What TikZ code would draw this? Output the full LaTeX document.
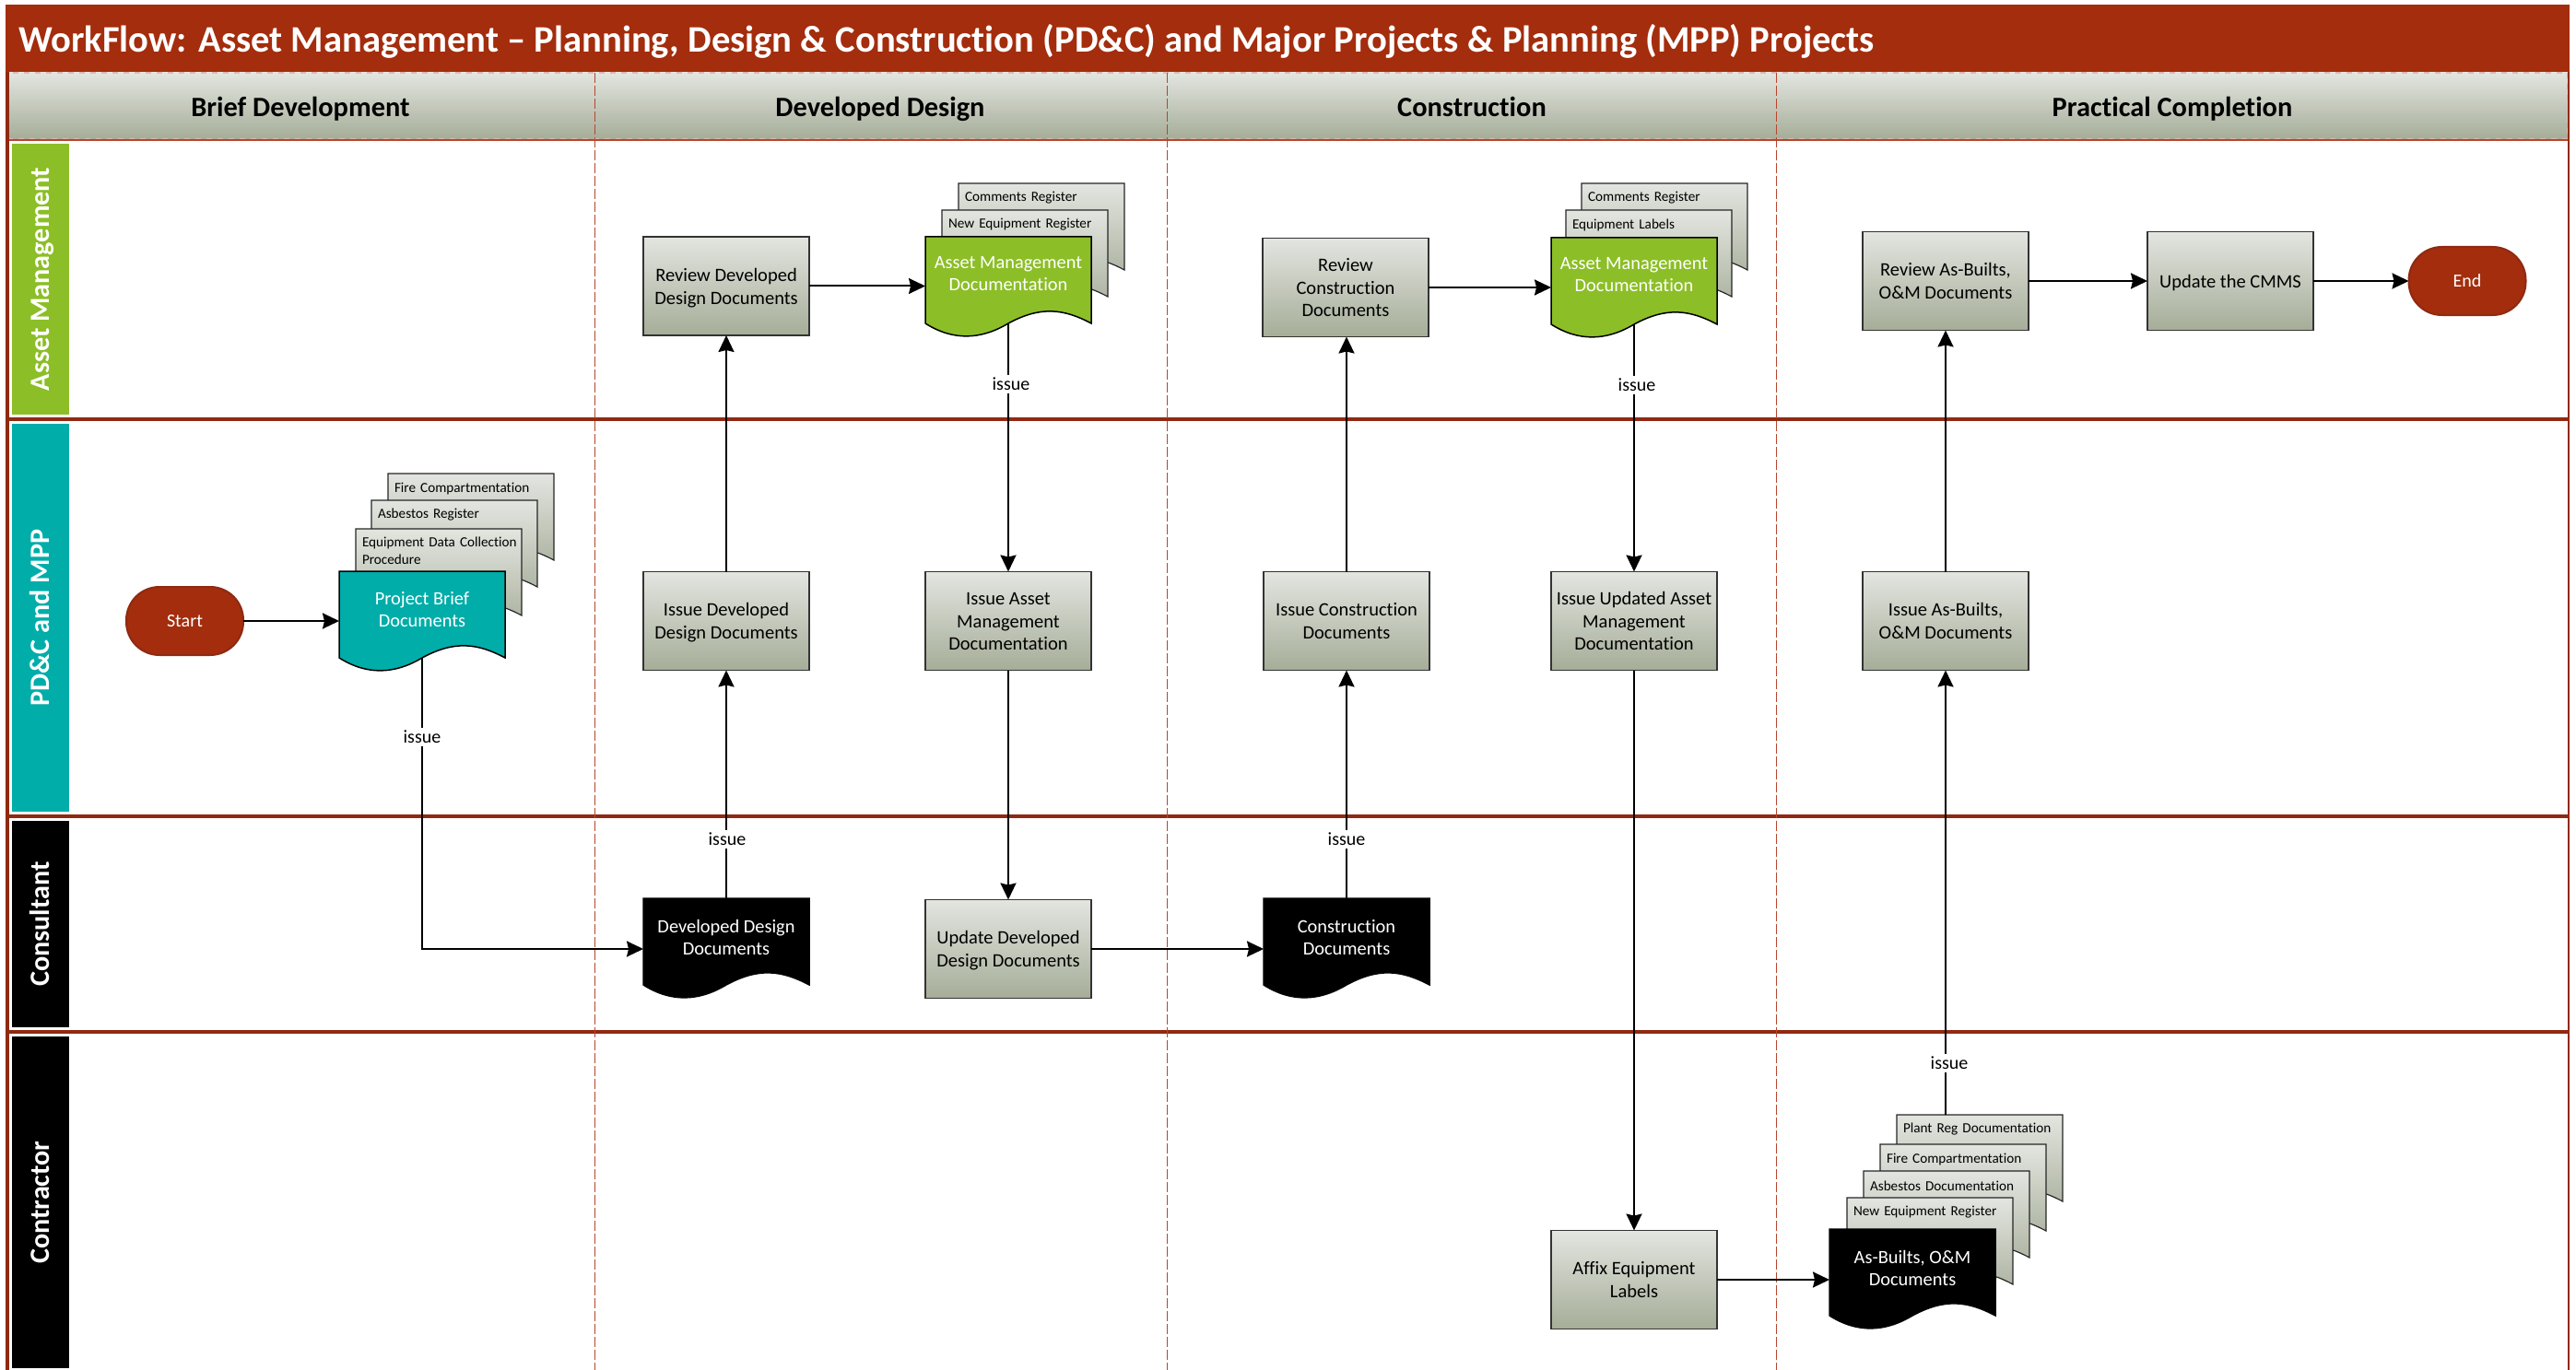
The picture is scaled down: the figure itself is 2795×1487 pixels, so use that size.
\documentclass[tikz,border=0pt]{standalone}
\usepackage{fontspec}
\setmainfont{Carlito}[Ligatures=NoCommon]
\usetikzlibrary{arrows.meta,calc}
\definecolor{rust}{HTML}{A32D0D}
\definecolor{rustdark}{HTML}{8F2A12}
\definecolor{colred}{HTML}{B8452C}
\definecolor{gtop}{HTML}{E3E5E0}
\definecolor{gbot}{HTML}{A5AD98}
\definecolor{amgreen}{HTML}{8CBE27}
\definecolor{pdteal}{HTML}{00ADA9}
\tikzset{
  pbox/.style={draw=black!80,line width=.75pt,top color=gtop,bottom color=gbot,minimum width=90pt,minimum height=53.5pt,inner sep=0pt,outer sep=0pt,font=\fontsize{10.25}{12.4}\selectfont},
  docnode/.style={minimum width=90pt,minimum height=54pt,inner sep=0pt,outer sep=0pt,text=white,font=\fontsize{10.2}{12}\selectfont},
  sheetnode/.style={anchor=north west,minimum height=16pt,text width=85pt,inner xsep=3.5pt,inner ysep=0pt,outer sep=0pt,align=left,font=\fontsize{7.6}{9.5}\selectfont},
  sheetfill/.style={draw=black!85,line width=.6pt,top color=gtop,bottom color=gbot},
  term/.style={draw=rustdark,line width=1pt,fill=rust,text=white,rounded corners=18pt,minimum width=63.5pt,minimum height=37pt,inner sep=0pt,outer sep=0pt,font=\fontsize{10}{12}\selectfont},
  conn/.style={draw=black,line width=1pt,-{Stealth[length=9pt,width=8.5pt,inset=1pt]}},
  issuelabel/.style={fill=white,inner xsep=1pt,inner ysep=1.5pt,font=\fontsize{10}{12}\selectfont},
  lanetag/.style={minimum width=31pt,inner sep=0pt,outer sep=0pt,text=white,anchor=north west},
  lanetext/.style={rotate=90,text=white,inner sep=0pt,text height=10.5pt,text depth=3pt,yshift=-1pt,font=\fontsize{15.1}{17}\bfseries\selectfont},
  lanerule/.style={draw=rustdark,line width=1.75pt},
  colrule/.style={draw=colred,line width=.45pt,dash pattern=on 5.5pt off 1.5pt},
  headtext/.style={inner sep=0pt,text height=10.5pt,text depth=3pt,font=\fontsize{15.2}{17}\bfseries\selectfont}
}
% wave-bottomed document outline, 180 wide, with its top left corner at #1
\newcommand{\waveoutline}[2]{%
  \begin{scope}[shift={(#1)}]
    \path[#2] (0,0) -- (180,0) -- (180,94) .. controls (150,78) and (125,75) .. (90,94) .. controls (60,112) and (30,113) .. (0,94) -- cycle;
  \end{scope}}
\newcommand{\doclines}[2][2.5pt]{\raisebox{#1}[0pt][0pt]{\begin{tabular}{@{}c@{}}#2\end{tabular}}}
\newcommand{\boxlines}[1]{\raisebox{-3.6pt}[0pt][0pt]{\begin{tabular}{@{}c@{}}#1\end{tabular}}}
\begin{document}
\begin{tikzpicture}[x=.5pt,y=-.5pt]
\useasboundingbox (0,0) rectangle (2795,1487);
% title and header bands
\fill[rust] (6,5) rectangle (2788,78);
\node[anchor=west,text=white,inner sep=0pt,font=\fontsize{20.3}{23}\bfseries\selectfont] (title) at (20,45) {WorkFlow: Asset Management – Planning, Design \& Construction (PD\&C) and Major Projects \& Planning (MPP) Projects};
\shade[top color=gtop,bottom color=gbot] (8,79) rectangle (2786,151);
\draw[draw=white!60!colred,line width=.6pt,dashed] (8,79) rectangle (2786,151);
\node[headtext] (h1) at (326,119) {Brief Development};
\node[headtext] (h2) at (955,119) {Developed Design};
\node[headtext] (h3) at (1597,119) {Construction};
\node[headtext] (h4) at (2357,119) {Practical Completion};
% frame and lanes
\draw[draw=colred,line width=1.1pt] (8,152) -- (2787,152);
\draw[lanerule] (8,78) -- (8,1487);
\draw[draw=rustdark,line width=1.3pt] (2787,78) -- (2787,1487);
\draw[lanerule] (8,455) -- (2787,455);
\draw[lanerule] (8,886) -- (2787,886);
\draw[lanerule] (8,1120) -- (2787,1120);
\draw[colrule] (645,79) -- (645,1487);
\draw[colrule] (1266,79) -- (1266,1487);
\draw[colrule] (1927,79) -- (1927,1487);
\node[lanetag,fill=amgreen,minimum height=147pt] (t1) at (13,156) {};
\node[lanetag,fill=pdteal,minimum height=210.5pt] (t2) at (13,460) {};
\node[lanetag,fill=black,minimum height=112pt] (t3) at (13,891) {};
\node[lanetag,fill=black,minimum height=180pt] (t4) at (13,1125) {};
\node[lanetext] (l1) at (t1.center) {Asset Management};
\node[lanetext] (l2) at (t2.center) {PD\&C and MPP};
\node[lanetext] (l3) at (t3.center) {Consultant};
\node[lanetext] (l4) at (t4.center) {Contractor};
% project brief stack
\waveoutline{421,514}{sheetfill}
\node[sheetnode] (pb3) at (421,514) {Fire Compartmentation};
\waveoutline{403,543}{sheetfill}
\node[sheetnode] (pb2) at (403,543) {Asbestos Register};
\waveoutline{386,574}{sheetfill}
\node[sheetnode,minimum height=24pt] (pb1) at (386,574) {Equipment Data Collection\\Procedure};
\waveoutline{368,620}{draw=black,line width=.75pt,fill=pdteal}
\node[docnode] (pb) at (458,674) {\doclines{Project Brief\\Documents}};
% asset management stack 1
\waveoutline{1040,199}{sheetfill}
\node[sheetnode] (am13) at (1040,199) {Comments Register};
\waveoutline{1022,228}{sheetfill}
\node[sheetnode] (am12) at (1022,228) {New Equipment Register};
\waveoutline{1004,257}{draw=black,line width=.75pt,fill=amgreen}
\node[docnode] (am1) at (1094,310.5) {\doclines[3.5pt]{Asset Management\\Documentation}};
% asset management stack 2
\waveoutline{1716,199}{sheetfill}
\node[sheetnode] (am23) at (1716,199) {Comments Register};
\waveoutline{1699,228}{sheetfill}
\node[sheetnode] (am22) at (1699,228) {Equipment Labels};
\waveoutline{1683,258}{draw=black,line width=.75pt,fill=amgreen}
\node[docnode] (am2) at (1773,312) {\doclines[3.5pt]{Asset Management\\Documentation}};
% consultant documents
\waveoutline{698,975}{draw=black,line width=.75pt,fill=black}
\node[docnode] (dd) at (788,1030) {\doclines{Developed Design\\Documents}};
\waveoutline{1371,975}{draw=black,line width=.75pt,fill=black}
\node[docnode] (cd) at (1461,1030) {\doclines{Construction\\Documents}};
% as-built stack
\waveoutline{2058,1210}{sheetfill}
\node[sheetnode] (ab4) at (2058,1210) {Plant Reg Documentation};
\waveoutline{2040,1242}{sheetfill}
\node[sheetnode] (ab3) at (2040,1242) {Fire Compartmentation};
\waveoutline{2022,1271}{sheetfill}
\node[sheetnode] (ab2) at (2022,1271) {Asbestos Documentation};
\waveoutline{2004,1300}{sheetfill}
\node[sheetnode] (ab1) at (2004,1300) {New Equipment Register};
\waveoutline{1985,1334}{draw=black,line width=.75pt,fill=black}
\node[docnode] (ab) at (2075,1389) {\doclines{As-Builts, O\&M\\Documents}};
% process boxes
\node[pbox] (rd) at (788,310.5) {\boxlines{Review Developed\\Design Documents}};
\node[pbox] (id) at (788,674) {\boxlines{Issue Developed\\Design Documents}};
\node[pbox] (iam) at (1094,674) {\boxlines{Issue Asset\\Management\\Documentation}};
\node[pbox] (ud) at (1094,1030) {\boxlines{Update Developed\\Design Documents}};
\node[pbox] (rc) at (1460,312) {\boxlines{Review\\Construction\\Documents}};
\node[pbox] (ic) at (1461,674) {\boxlines{Issue Construction\\Documents}};
\node[pbox] (iua) at (1773,674) {\boxlines{Issue Updated Asset\\Management\\Documentation}};
\node[pbox] (af) at (1773,1389) {\boxlines{Affix Equipment\\Labels}};
\node[pbox] (ra) at (2111,305) {\boxlines{Review As-Builts,\\O\&M Documents}};
\node[pbox] (ib) at (2111,674) {\boxlines{Issue As-Builts,\\O\&M Documents}};
\node[pbox] (up) at (2420,305) {\boxlines{Update the CMMS}};
\node[term] (st) at (200.5,674) {Start};
\node[term] (en) at (2677,305) {End};
% connectors
\draw[conn] (st) -- (pb);
\draw[conn] ([yshift=7pt]pb.south) |- (dd.west);
\draw[conn] (dd.north) -- (id.south);
\draw[conn] (id.north) -- (rd.south);
\draw[conn] (rd.east) -- (am1.west);
\draw[conn] ([yshift=7pt]am1.south) -- (iam.north);
\draw[conn] (iam.south) -- (ud.north);
\draw[conn] (ud.east) -- (cd.west);
\draw[conn] (cd.north) -- (ic.south);
\draw[conn] (ic.north) -- (rc.south -| ic.north);
\draw[conn] (rc.east) -- (am2.west);
\draw[conn] ([yshift=7pt]am2.south) -- (iua.north);
\draw[conn] (iua.south) -- (af.north);
\draw[conn] (af.east) -- (ab.west);
\draw[conn] (ib.south |- ab4.north) -- (ib.south);
\draw[conn] (ib.north) -- (ra.south);
\draw[conn] (ra.east) -- (up.west);
\draw[conn] (up.east) -- (en.west);
% connector labels
\node[issuelabel] (i1) at (458,800) {issue};
\node[issuelabel] (i2) at (1097,417) {issue};
\node[issuelabel] (i3) at (789,911) {issue};
\node[issuelabel] (i4) at (1461,911) {issue};
\node[issuelabel] (i5) at (1776,418) {issue};
\node[issuelabel] (i6) at (2115,1154) {issue};
\end{tikzpicture}
\end{document}
